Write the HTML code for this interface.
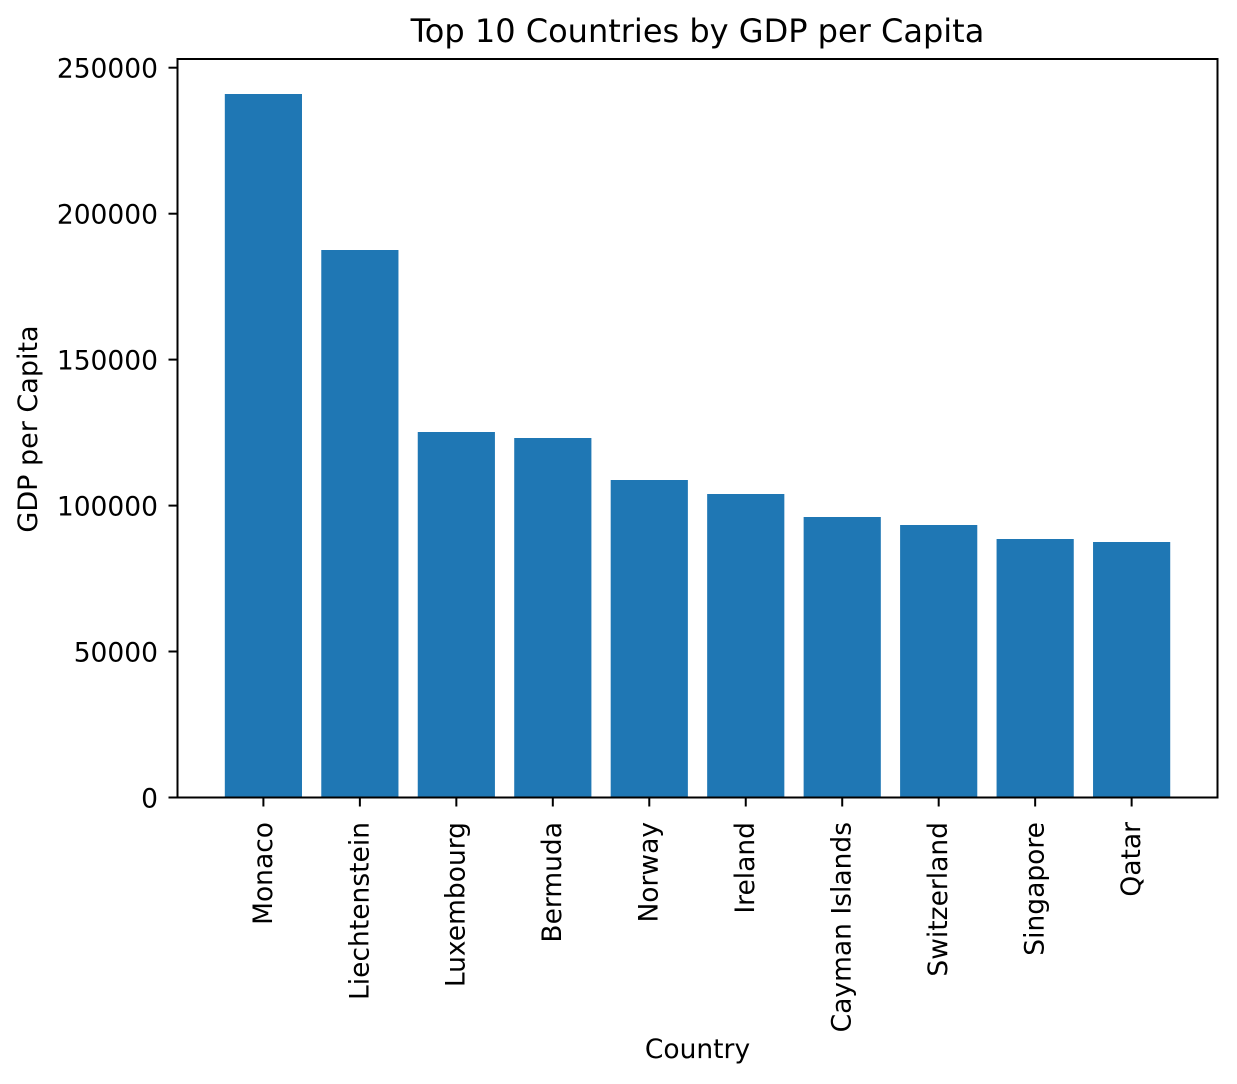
<!DOCTYPE html>
<html>
<head>
<meta charset="utf-8">
<style>
html,body{margin:0;padding:0;background:#fff;}
svg{display:block;}
text{font-family:"DejaVu Sans","Liberation Sans",sans-serif;fill:#000;}
</style>
</head>
<body>
<svg width="1237" height="1084" viewBox="0 0 1237 1084" xmlns="http://www.w3.org/2000/svg">
<rect x="0" y="0" width="1237" height="1084" fill="#fff"/>
<!-- bars -->
<g fill="#1f77b4">
<rect x="224.81" y="94" width="77.18" height="703.5"/>
<rect x="321.28" y="250" width="77.18" height="547.5"/>
<rect x="417.75" y="432" width="77.18" height="365.5"/>
<rect x="514.22" y="438" width="77.18" height="359.5"/>
<rect x="610.69" y="480" width="77.18" height="317.5"/>
<rect x="707.16" y="494" width="77.18" height="303.5"/>
<rect x="803.63" y="517" width="77.18" height="280.5"/>
<rect x="900.10" y="525" width="77.18" height="272.5"/>
<rect x="996.57" y="539" width="77.18" height="258.5"/>
<rect x="1093.04" y="542" width="77.18" height="255.5"/>
</g>
<!-- spines -->
<rect x="177.5" y="59" width="1040" height="738.5" fill="none" stroke="#000" stroke-width="2" stroke-linejoin="miter"/>
<!-- y ticks -->
<g stroke="#000" stroke-width="2">
<line x1="168.5" y1="797.5" x2="177.5" y2="797.5"/>
<line x1="168.5" y1="651.5" x2="177.5" y2="651.5"/>
<line x1="168.5" y1="505.6" x2="177.5" y2="505.6"/>
<line x1="168.5" y1="359.6" x2="177.5" y2="359.6"/>
<line x1="168.5" y1="213.7" x2="177.5" y2="213.7"/>
<line x1="168.5" y1="67.7" x2="177.5" y2="67.7"/>
</g>
<g font-size="26.5" text-anchor="end">
<text x="158" y="807.5">0</text>
<text x="158" y="661.5">50000</text>
<text x="158" y="515.6">100000</text>
<text x="158" y="369.6">150000</text>
<text x="158" y="223.7">200000</text>
<text x="158" y="77.7">250000</text>
</g>
<!-- x ticks -->
<g stroke="#000" stroke-width="2">
<line x1="263.40" y1="797.5" x2="263.40" y2="806.5"/>
<line x1="359.87" y1="797.5" x2="359.87" y2="806.5"/>
<line x1="456.34" y1="797.5" x2="456.34" y2="806.5"/>
<line x1="552.81" y1="797.5" x2="552.81" y2="806.5"/>
<line x1="649.28" y1="797.5" x2="649.28" y2="806.5"/>
<line x1="745.75" y1="797.5" x2="745.75" y2="806.5"/>
<line x1="842.22" y1="797.5" x2="842.22" y2="806.5"/>
<line x1="938.69" y1="797.5" x2="938.69" y2="806.5"/>
<line x1="1035.16" y1="797.5" x2="1035.16" y2="806.5"/>
<line x1="1131.63" y1="797.5" x2="1131.63" y2="806.5"/>
</g>
<g font-size="26.5" text-anchor="end">
<text transform="translate(271.8,822) rotate(-90)">Monaco</text>
<text transform="translate(368.27,822) rotate(-90)">Liechtenstein</text>
<text transform="translate(464.74,822) rotate(-90)">Luxembourg</text>
<text transform="translate(561.21,822) rotate(-90)">Bermuda</text>
<text transform="translate(657.68,822) rotate(-90)">Norway</text>
<text transform="translate(754.15,822) rotate(-90)">Ireland</text>
<text transform="translate(850.62,822) rotate(-90)">Cayman Islands</text>
<text transform="translate(947.09,822) rotate(-90)">Switzerland</text>
<text transform="translate(1043.56,822) rotate(-90)">Singapore</text>
<text transform="translate(1140.03,822) rotate(-90)">Qatar</text>
</g>
<!-- axis labels -->
<text x="697.5" y="1058" font-size="26.5" text-anchor="middle">Country</text>
<text transform="translate(37,429) rotate(-90)" font-size="27" text-anchor="middle">GDP per Capita</text>
<!-- title -->
<text x="697.5" y="42" font-size="32" text-anchor="middle">Top 10 Countries by GDP per Capita</text>
</svg>
</body>
</html>
